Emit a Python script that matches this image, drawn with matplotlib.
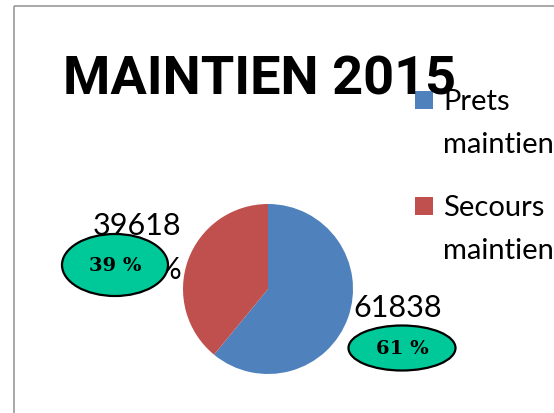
import matplotlib
matplotlib.use("Agg")
import matplotlib.pyplot as plt
from matplotlib.patches import Ellipse, Rectangle

# Data
categories = ["Prets\nmaintien", "Secours\nmaintien"]
values = [61838, 39618]
colors = ["#4F81BD", "#C0504D"]
title = "MAINTIEN 2015"

total = sum(values)
pcts = [round(v / total * 100) for v in values]

W, H = 554, 414
fig = plt.figure(figsize=(W / 100, H / 100), dpi=100)
fig.patch.set_facecolor("white")

# overlay axes in pixel coords
ov = fig.add_axes([0, 0, 1, 1])
ov.set_xlim(0, W)
ov.set_ylim(H, 0)
ov.axis("off")

# chart frame
ov.add_patch(Rectangle((14, 7), 600, 500, fill=False, edgecolor="#9A9A9A", lw=1.2))

# pie
cx, cy, r = 268, 290, 85
pax = fig.add_axes([(cx - r) / W, (H - cy - r) / H, 2 * r / W, 2 * r / H])
pax.pie(values, colors=colors, startangle=90, counterclock=False, radius=1,
        wedgeprops=dict(linewidth=0))
pax.set_xlim(-1, 1)
pax.set_ylim(-1, 1)
pax.axis("off")

font = "Lato"
ov.text(260, 80, title, ha="center", va="center", fontsize=39, fontweight="bold",
        family="Roboto", color="black")

# legend
leg_y = [101, 207]
for i, cat in enumerate(categories):
    ov.add_patch(Rectangle((415, leg_y[i] - 9), 18, 18, facecolor=colors[i], edgecolor="none"))
    lines = cat.split("\n")
    ov.text(443, leg_y[i] + 1, lines[0], ha="left", va="center", fontsize=21, family=font)
    ov.text(443, leg_y[i] + 44, lines[1], ha="left", va="center", fontsize=21, family=font)

# data labels (value + percentage)
ov.text(137, 226, f"{values[1]}", ha="center", va="center", fontsize=22, family=font)
ov.text(182, 270, f"{pcts[1]} %", ha="right", va="center", fontsize=22, family=font)
ov.text(398, 308, f"{values[0]}", ha="center", va="center", fontsize=22, family=font)
ov.text(351, 350, f"{pcts[0]} %", ha="left", va="center", fontsize=22, family=font)

# callout ellipses
for (ex, ey, ew, eh, p) in [(115, 266, 106, 62, pcts[1]), (402, 349, 107, 45, pcts[0])]:
    ov.add_patch(Ellipse((ex, ey), ew, eh, facecolor="#00C999", edgecolor="black", lw=1.6, zorder=5))
    ov.text(ex, ey, f"{p} %", ha="center", va="center", fontsize=14, fontweight="bold",
            family="DejaVu Serif", zorder=6)

fig.savefig("out.png", dpi=100)
